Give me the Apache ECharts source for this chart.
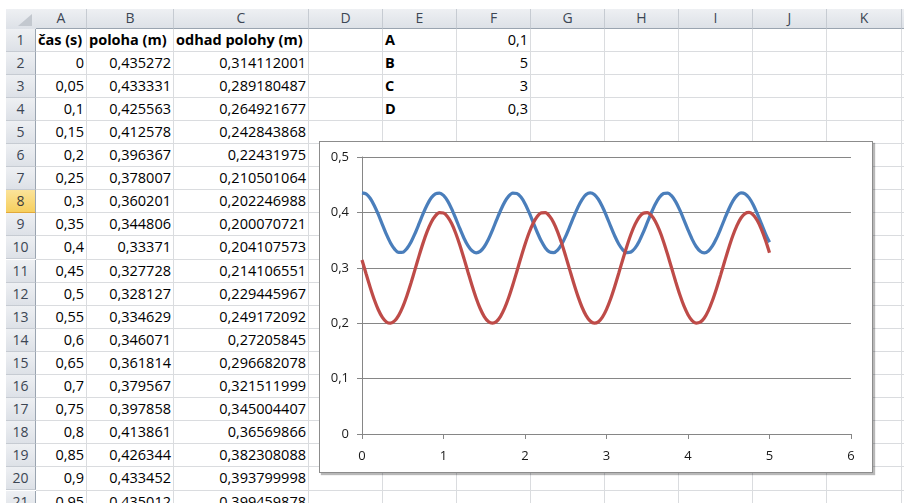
<!DOCTYPE html>
<html>
<head>
<meta charset="utf-8">
<script src="https://cdn.jsdelivr.net/npm/echarts@6/dist/echarts.min.js"></script>
<style>
  html, body { margin: 0; padding: 0; background: #fff; }
  body { width: 904px; height: 503px; overflow: hidden; position: relative; font-family: "Open Sans", "Noto Sans", sans-serif; }
  .abs { position: absolute; box-sizing: border-box; }
  .hdr { background: linear-gradient(#eef0f3, #dde1e7); color: #3c4654; font-size: 14px; text-align: center; }
  .cell { font-size: 14.5px; color: #000; white-space: nowrap; }
  #chart { position: absolute; left: 319px; top: 141px; width: 554px; height: 332px; background: #fff;
           border: 1px solid #8c8c8c; box-shadow: 2px 2px 1px rgba(0,0,0,0.28); box-sizing: border-box; z-index: 5; }
</style>
</head>
<body>
<div id="sheet"></div>
<div id="chart"></div>
<script>
// time samples, s
const times = [
  0, 0.05, 0.1, 0.15, 0.2, 0.25, 0.3, 0.35, 0.4, 0.45,
  0.5, 0.55, 0.6, 0.65, 0.7, 0.75, 0.8, 0.85, 0.9, 0.95,
  1, 1.05, 1.1, 1.15, 1.2, 1.25, 1.3, 1.35, 1.4, 1.45,
  1.5, 1.55, 1.6, 1.65, 1.7, 1.75, 1.8, 1.85, 1.9, 1.95,
  2, 2.05, 2.1, 2.15, 2.2, 2.25, 2.3, 2.35, 2.4, 2.45,
  2.5, 2.55, 2.6, 2.65, 2.7, 2.75, 2.8, 2.85, 2.9, 2.95,
  3, 3.05, 3.1, 3.15, 3.2, 3.25, 3.3, 3.35, 3.4, 3.45,
  3.5, 3.55, 3.6, 3.65, 3.7, 3.75, 3.8, 3.85, 3.9, 3.95,
  4, 4.05, 4.1, 4.15, 4.2, 4.25, 4.3, 4.35, 4.4, 4.45,
  4.5, 4.55, 4.6, 4.65, 4.7, 4.75, 4.8, 4.85, 4.9, 4.95,
  5
];

// measured position, m
const poloha = [
  0.435272, 0.433331, 0.425563, 0.412578, 0.396367, 0.378007, 0.360201, 0.344806, 0.33371, 0.327728,
  0.328127, 0.334629, 0.346071, 0.361814, 0.379567, 0.397858, 0.413861, 0.426344, 0.433452, 0.435012,
  0.4308, 0.4208, 0.4064, 0.3891, 0.3710, 0.3539, 0.3400, 0.3307, 0.3271, 0.3296,
  0.3380, 0.3511, 0.3677, 0.3859, 0.4034, 0.4185, 0.4294, 0.4348, 0.4342, 0.4276,
  0.4158, 0.4001, 0.3822, 0.3642, 0.3482, 0.3359, 0.3286, 0.3274, 0.3321, 0.3425,
  0.3572, 0.3746, 0.3927, 0.4096, 0.4232, 0.4321, 0.4353, 0.4324, 0.4237, 0.4102,
  0.3934, 0.3753, 0.3578, 0.3430, 0.3325, 0.3274, 0.3285, 0.3355, 0.3476, 0.3636,
  0.3815, 0.3994, 0.4152, 0.4272, 0.4340, 0.4349, 0.4297, 0.4190, 0.4041, 0.3866,
  0.3685, 0.3518, 0.3384, 0.3299, 0.3271, 0.3305, 0.3395, 0.3533, 0.3702, 0.3884,
  0.4057, 0.4203, 0.4305, 0.4351, 0.4336, 0.4262, 0.4138, 0.3976, 0.3796, 0.3618,
  0.3462
];

// estimated position, m
const odhad = [
  0.314112001, 0.289180487, 0.264921677, 0.242843868, 0.22431975, 0.210501064, 0.202246988, 0.200070721, 0.204107573, 0.214106551,
  0.229445967, 0.249172092, 0.27205845, 0.296682078, 0.321511999, 0.345004407, 0.36569866, 0.382308088, 0.393799998, 0.399459878,
  0.3989, 0.3923, 0.3798, 0.3624, 0.3412, 0.3174, 0.2925, 0.2680, 0.2456, 0.2265,
  0.2120, 0.2030, 0.2000, 0.2032, 0.2125, 0.2271, 0.2463, 0.2689, 0.2934, 0.3183,
  0.3420, 0.3632, 0.3804, 0.3926, 0.3991, 0.3994, 0.3935, 0.3818, 0.3650, 0.3442,
  0.3206, 0.2958, 0.2712, 0.2484, 0.2288, 0.2137, 0.2039, 0.2000, 0.2024, 0.2109,
  0.2249, 0.2436, 0.2658, 0.2901, 0.3150, 0.3390, 0.3606, 0.3783, 0.3913, 0.3985,
  0.3997, 0.3946, 0.3837, 0.3675, 0.3472, 0.3239, 0.2991, 0.2744, 0.2513, 0.2312,
  0.2154, 0.2048, 0.2002, 0.2018, 0.2094, 0.2228, 0.2409, 0.2627, 0.2868, 0.3117,
  0.3359, 0.3579, 0.3762, 0.3899, 0.3979, 0.3999, 0.3956, 0.3854, 0.3699, 0.3501,
  0.3271
];

const headers = ['čas (s)', 'poloha (m)', 'odhad polohy (m)'];
const paramNames = ['A', 'B', 'C', 'D'];
const paramValues = [0.1, 5, 3, 0.3];
const columnLetters = ['A', 'B', 'C', 'D', 'E', 'F', 'G', 'H', 'I', 'J', 'K', 'L'];
const xTicks = [0, 1, 2, 3, 4, 5, 6];
const yTicks = [0, 0.1, 0.2, 0.3, 0.4, 0.5];

const comma = v => String(v).replace('.', ',');

// ---- spreadsheet grid ----
const sheet = document.getElementById('sheet');
const colEdges = [36, 87, 174, 309, 383, 457, 531, 605, 679, 753, 827, 902, 977];
const headTop = 9, headH = 19.5, rowH = 23.1, firstRowTop = 28.5, rowCount = 21;
const rowTop = r => firstRowTop + (r - 1) * rowH;

function box(x, y, w, h, css, text, cls) {
  const d = document.createElement('div');
  d.className = 'abs' + (cls ? ' ' + cls : '');
  Object.assign(d.style, { left: x + 'px', top: y + 'px', width: w + 'px', height: h + 'px' }, css || {});
  if (text !== undefined) d.textContent = text;
  sheet.appendChild(d);
  return d;
}

// cell gridlines
for (let i = 1; i < colEdges.length; i++) {
  box(colEdges[i] - 1, firstRowTop, 1, 503 - firstRowTop, { background: '#dadcdf' });
}
for (let r = 1; r <= rowCount; r++) {
  box(colEdges[0], rowTop(r) + rowH - 1, 904 - colEdges[0], 1, { background: '#dadcdf' });
}

// corner cell
box(6, headTop, 30, headH, {}, undefined, 'hdr');
box(18, headTop + 5, 14, 12, { background: '#c3c8cf', clipPath: 'polygon(100% 0, 100% 100%, 0 100%)' });

// column headers
for (let i = 0; i < columnLetters.length; i++) {
  const x = colEdges[i], w = colEdges[i + 1] - colEdges[i];
  box(x, headTop, w, headH, { lineHeight: (headH - 1) + 'px', borderRight: '1px solid #c6cbd2', borderBottom: '1px solid #9aa4b0' },
      columnLetters[i], 'hdr');
}
// row headers
for (let r = 1; r <= rowCount; r++) {
  const sel = r === 8;
  box(6, rowTop(r), 30, rowH, {
    lineHeight: (rowH - 1) + 'px', borderBottom: '1px solid ' + (sel ? '#e2a93a' : '#c6cbd2'),
    borderRight: '1px solid #9aa4b0',
    background: sel ? 'linear-gradient(#fbe39a, #f6cf5e)' : undefined,
    color: sel ? '#3c3c3c' : undefined
  }, String(r), 'hdr');
}

function cellText(col, row, text, align, bold) {
  const x = colEdges[col], w = colEdges[col + 1] - colEdges[col];
  box(x, rowTop(row), w, rowH, {
    lineHeight: (rowH - 1) + 'px', textAlign: align, fontWeight: bold ? '700' : '400',
    paddingRight: align === 'right' ? '3px' : '0', paddingLeft: align === 'left' ? '2px' : '0',
    overflow: 'visible'
  }, text, 'cell');
}

headers.forEach((h, i) => cellText(i, 1, h, 'left', true));
for (let k = 0; k < rowCount - 1; k++) {
  cellText(0, k + 2, comma(times[k]), 'right');
  cellText(1, k + 2, comma(poloha[k]), 'right');
  cellText(2, k + 2, comma(odhad[k]), 'right');
}
paramNames.forEach((n, i) => {
  cellText(4, i + 1, n, 'left', true);
  cellText(5, i + 1, comma(paramValues[i]), 'right');
});

// ---- chart ----
const chart = echarts.init(document.getElementById('chart'), null, { renderer: 'canvas' });
const axisColor = '#868686';
const labelStyle = { color: '#1a1a1a', fontFamily: '"Open Sans", "Noto Sans", sans-serif', fontSize: 13 };
chart.setOption({
  animation: false,
  grid: { left: 42, top: 15, right: 21, bottom: 38, outerBoundsMode: 'none' },
  xAxis: {
    type: 'value', min: xTicks[0], max: xTicks[xTicks.length - 1], interval: 1,
    axisLine: { show: true, lineStyle: { color: axisColor, width: 1 } },
    axisTick: { show: true, length: 5, lineStyle: { color: axisColor } },
    axisLabel: Object.assign({ margin: 16, formatter: v => comma(v) }, labelStyle),
    splitLine: { show: false }
  },
  yAxis: {
    type: 'value', min: yTicks[0], max: yTicks[yTicks.length - 1], interval: 0.1,
    axisLine: { show: true, lineStyle: { color: axisColor, width: 1 } },
    axisTick: { show: true, length: 5, lineStyle: { color: axisColor } },
    axisLabel: Object.assign({ margin: 13, formatter: v => v === 0 ? '0' : v.toFixed(1).replace('.', ',') }, labelStyle),
    splitLine: { show: true, lineStyle: { color: axisColor, width: 1 } }
  },
  series: [
    {
      name: headers[1], type: 'line', showSymbol: false, smooth: 0.3,
      data: times.map((t, i) => [t, poloha[i]]),
      lineStyle: { color: '#4a7ebb', width: 3.25 }, itemStyle: { color: '#4a7ebb' }
    },
    {
      name: headers[2], type: 'line', showSymbol: false, smooth: 0.3,
      data: times.map((t, i) => [t, odhad[i]]),
      lineStyle: { color: '#be4b48', width: 3.25 }, itemStyle: { color: '#be4b48' }
    }
  ]
});
</script>
</body>
</html>
